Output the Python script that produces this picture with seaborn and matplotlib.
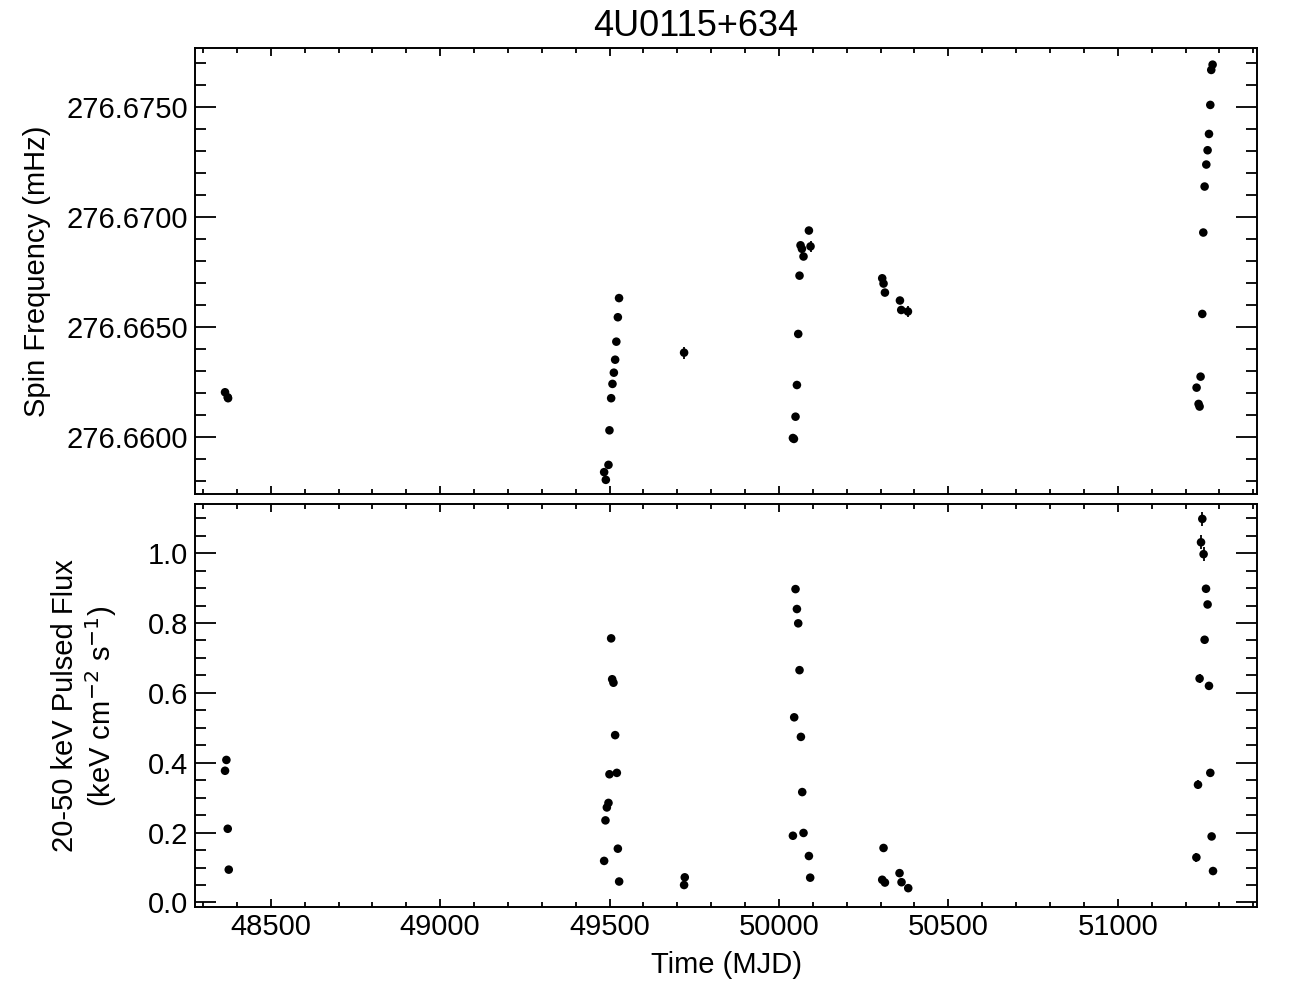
import numpy as np
import pandas as pd
import seaborn as sns
import matplotlib
matplotlib.use("Agg")
import matplotlib.pyplot as plt
from matplotlib.ticker import MultipleLocator, FormatStrFormatter

# spin frequency history (mHz)
spin_mjd = [48365, 48373, 48374,
            49528, 49524.5, 49520, 49516.5, 49512.7, 49508.6, 49504.7, 49499.7, 49496.8, 49484, 49489,
            49720,
            50088.4, 50063.7, 50093.2, 50067.8, 50072.5, 50060.7, 50056.9, 50053, 50048.9, 50041.2, 50044.2,
            50304.8, 50308.7, 50312.8, 50357.1, 50360.9, 50380.7,
            51280, 51276, 51273.2, 51269.3, 51265.2, 51261.4, 51256.4, 51252.5, 51249.5, 51244.5,
            51232.7, 51238.6, 51241.6]
spin_freq = [276.66202, 276.66179, 276.66175,
             276.66630, 276.66543, 276.66432, 276.66350, 276.66291, 276.66240, 276.66175, 276.66029,
             276.65872, 276.65839, 276.65804,
             276.66382,
             276.66937, 276.66870, 276.66865, 276.66854, 276.66819, 276.66732, 276.66467, 276.66235,
             276.66091, 276.65994, 276.65990,
             276.66720, 276.66696, 276.66655, 276.66619, 276.66576, 276.66569,
             276.67691, 276.67667, 276.67508, 276.67376, 276.67302, 276.67237, 276.67137, 276.66928,
             276.66558, 276.66273, 276.66223, 276.66149, 276.66137]
spin_err = [0.00008, 0.00008, 0.00008,
            0.00008, 0.00008, 0.00008, 0.00008, 0.00008, 0.00008, 0.00008, 0.00008, 0.00008, 0.00008, 0.00008,
            0.00027,
            0.00008, 0.00010, 0.00025, 0.00008, 0.00008, 0.00008, 0.00008, 0.00008, 0.00008, 0.00008, 0.00008,
            0.00008, 0.00008, 0.00008, 0.00010, 0.00010, 0.00025,
            0.00008, 0.00008, 0.00008, 0.00008, 0.00008, 0.00008, 0.00008, 0.00008, 0.00008, 0.00008,
            0.00008, 0.00008, 0.00008]

# 20-50 keV pulsed flux (keV cm^-2 s^-1)
flux_mjd = [48369, 48365, 48373, 48376,
            49504.7, 49507.7, 49511.5, 49516.5, 49521.5, 49499.7, 49496.8, 49492, 49487.9, 49524.5, 49484, 49528.3,
            49722, 49720,
            50048.9, 50053, 50056.9, 50060.7, 50045, 50064.8, 50068.7, 50041.2, 50072.5, 50088.4, 50092.2,
            50308.7, 50304.8, 50312.8, 50355.9, 50361.8, 50381.6,
            51249.6, 51245.8, 51253.4, 51260.5, 51265.2, 51256.4, 51241.6, 51269.3, 51273.2, 51236.9,
            51277.1, 51232.1, 51281.2]
flux = [0.408, 0.377, 0.211, 0.094,
        0.756, 0.639, 0.629, 0.479, 0.371, 0.367, 0.285, 0.272, 0.235, 0.154, 0.119, 0.060,
        0.072, 0.050,
        0.897, 0.840, 0.799, 0.665, 0.530, 0.474, 0.316, 0.191, 0.199, 0.133, 0.071,
        0.156, 0.065, 0.057, 0.084, 0.058, 0.041,
        1.098, 1.031, 0.997, 0.898, 0.853, 0.752, 0.641, 0.620, 0.371, 0.337,
        0.189, 0.129, 0.090]
flux_err = [0.005, 0.005, 0.005, 0.005,
            0.005, 0.005, 0.005, 0.005, 0.005, 0.005, 0.005, 0.005, 0.005, 0.005, 0.005, 0.005,
            0.005, 0.005,
            0.005, 0.005, 0.005, 0.005, 0.005, 0.005, 0.005, 0.005, 0.005, 0.005, 0.005,
            0.005, 0.005, 0.005, 0.005, 0.005, 0.005,
            0.02, 0.02, 0.02, 0.005, 0.005, 0.005, 0.013, 0.005, 0.005, 0.013,
            0.005, 0.013, 0.005]

spin_df = pd.DataFrame({"mjd": spin_mjd, "freq": spin_freq, "err": spin_err})
flux_df = pd.DataFrame({"mjd": flux_mjd, "flux": flux, "err": flux_err})

sns.set_theme(style="ticks")
plt.rcParams["font.family"] = ["Liberation Sans", "DejaVu Sans"]
plt.rcParams["axes.linewidth"] = 1.4
plt.rcParams["axes.edgecolor"] = "black"
plt.rcParams["text.color"] = "black"
plt.rcParams["axes.labelcolor"] = "black"
plt.rcParams["xtick.color"] = "black"
plt.rcParams["ytick.color"] = "black"

fig = plt.figure(figsize=(12.96, 10.08), dpi=100)
ax1 = fig.add_axes([0.1505, 0.5102, 0.8194, 0.4417])
ax2 = fig.add_axes([0.1505, 0.0999, 0.8194, 0.4001], sharex=ax1)

ax1.errorbar(spin_df["mjd"], spin_df["freq"], yerr=spin_df["err"], fmt="none",
             ecolor="black", elinewidth=1.3, capsize=0)
sns.scatterplot(data=spin_df, x="mjd", y="freq", ax=ax1, color="black",
                s=38, edgecolor="none")
ax2.errorbar(flux_df["mjd"], flux_df["flux"], yerr=flux_df["err"], fmt="none",
             ecolor="black", elinewidth=1.3, capsize=0)
sns.scatterplot(data=flux_df, x="mjd", y="flux", ax=ax2, color="black",
                s=38, edgecolor="none")

ax1.set_xlim(48276.5, 51411)
ax1.set_ylim(276.657409, 276.677645)
ax2.set_ylim(-0.0138, 1.1406)

for ax in (ax1, ax2):
    ax.xaxis.set_major_locator(MultipleLocator(500))
    ax.xaxis.set_minor_locator(MultipleLocator(100))
    ax.tick_params(which="both", direction="in", top=True, right=True,
                   color="black", labelcolor="black", labelsize=21, width=1.3)
    ax.tick_params(axis="x", which="major", length=6, pad=4)
    ax.tick_params(axis="x", which="minor", length=3.4)
    ax.tick_params(axis="y", which="major", length=15, pad=5)
    ax.tick_params(axis="y", which="minor", length=7.8)
    for s in ax.spines.values():
        s.set_color("black")

ax1.yaxis.set_major_locator(MultipleLocator(0.005))
ax1.yaxis.set_minor_locator(MultipleLocator(0.001))
ax1.yaxis.set_major_formatter(FormatStrFormatter("%.4f"))
ax1.tick_params(axis="x", labelbottom=False)
ax1.set_xlabel("")
ax1.set_ylabel("Spin Frequency (mHz)", fontsize=21, va="center")
ax1.yaxis.set_label_coords(-0.1488, 0.5)
# title sits a bit left of the panel centre in the original
ax1.set_title("4U0115+634", fontsize=26, pad=9, x=0.471)

ax2.yaxis.set_major_locator(MultipleLocator(0.2))
ax2.yaxis.set_minor_locator(MultipleLocator(0.05))
ax2.yaxis.set_major_formatter(FormatStrFormatter("%.1f"))
ax2.xaxis.set_major_formatter(FormatStrFormatter("%d"))
ax2.set_xlabel("Time (MJD)", fontsize=21, va="center")
ax2.xaxis.set_label_coords(0.5, -0.143)
ax2.set_ylabel("20-50 keV Pulsed Flux\n(keV cm$^{-2}$ s$^{-1}$)", fontsize=21,
               linespacing=1.15, va="center")
ax2.yaxis.set_label_coords(-0.1035, 0.5)

fig.savefig("out.png", dpi=100)
